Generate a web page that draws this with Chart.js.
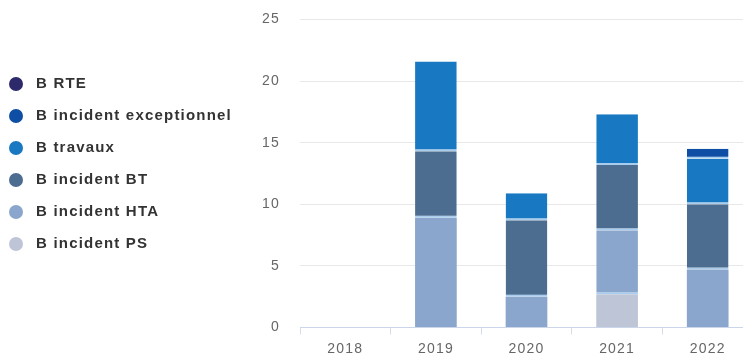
<!DOCTYPE html>
<html lang="fr">
<head>
<meta charset="utf-8">
<title>Incidents</title>
<script src="https://cdn.jsdelivr.net/npm/chart.js@4.4.1/dist/chart.umd.min.js"></script>
<style>
  html, body { margin: 0; padding: 0; background: #fff; overflow: hidden; }
  #wrap { width: 753px; height: 365px; }
</style>
</head>
<body>
<div id="wrap"><canvas id="chart" width="753" height="365"></canvas></div>
<script>
// categories and series (stack order: bottom -> top)
const years = ['2018', '2019', '2020', '2021', '2022'];
const incidentPS = [0, 0, 0, 2.7, 0];
const incidentHTA = [0, 8.9, 2.5, 5.2, 4.7];
const incidentBT = [0, 5.4, 6.2, 5.3, 5.3];
const travaux = [0, 7.3, 2.2, 4.1, 3.7];
const incidentExceptionnel = [0, 0, 0, 0, 0.8];
const rte = [0, 0, 0, 0, 0];
const yTicks = [0, 5, 10, 15, 20, 25];

const series = [
    { label: 'B incident PS', data: incidentPS, color: '#bec5d7' },
    { label: 'B incident HTA', data: incidentHTA, color: '#8ba6cd' },
    { label: 'B incident BT', data: incidentBT, color: '#4c6d90' },
    { label: 'B travaux', data: travaux, color: '#1879c2' },
    { label: 'B incident exceptionnel', data: incidentExceptionnel, color: '#0e4ea4' },
    { label: 'B RTE', data: rte, color: '#2c2a6b' }
];

const FONT = "'Liberation Sans', Arial, sans-serif";
Chart.defaults.font.family = FONT;

// round legend markers
function dot(color) {
    const c = document.createElement('canvas');
    c.width = c.height = 16;
    const g = c.getContext('2d');
    g.fillStyle = color;
    g.beginPath();
    g.arc(8, 8, 7, 0, Math.PI * 2);
    g.fill();
    return c;
}
const dots = series.map(s => dot(s.color));

// thin light separator under a segment when something is stacked below it
function separator(ctx) {
    const i = ctx.dataIndex;
    let below = 0;
    if (i !== undefined) {
        ctx.chart.data.datasets.slice(0, ctx.datasetIndex).forEach(d => { below += d.data[i] || 0; });
    }
    return { top: 0, left: 0, right: 0, bottom: below > 0 ? 2 : 0 };
}

// slightly spaced lettering for all texts
const spacing = {
    id: 'spacing',
    beforeUpdate(chart) { chart.ctx.letterSpacing = '1.2px'; },
    beforeDraw(chart) { chart.ctx.letterSpacing = '1.2px'; }
};

new Chart(document.getElementById('chart'), {
    type: 'bar',
    data: {
        labels: years,
        datasets: series.map(s => ({
            label: s.label,
            data: s.data,
            backgroundColor: s.color,
            borderColor: '#a9cdee',
            borderWidth: separator,
            borderSkipped: false,
            categoryPercentage: 1,
            barPercentage: 0.46
        }))
    },
    options: {
        responsive: false,
        animation: false,
        layout: { padding: { left: -13.5, top: 19.5, right: 0, bottom: 0 } },
        plugins: {
            tooltip: { enabled: false },
            legend: {
                position: 'left',
                align: 'start',
                reverse: true,
                maxWidth: 270,
                title: { display: true, text: '', padding: { top: 0, bottom: 39 }, font: { size: 1, lineHeight: 1 } },
                labels: {
                    usePointStyle: true,
                    pointStyleWidth: 25,
                    padding: 17,
                    color: '#333333',
                    font: { size: 15, weight: 'bold' },
                    generateLabels(chart) {
                        const items = Chart.defaults.plugins.legend.labels.generateLabels(chart);
                        items.forEach(it => { it.pointStyle = dots[it.datasetIndex]; });
                        return items;
                    }
                }
            }
        },
        scales: {
            x: {
                stacked: true,
                grid: { offset: true, drawOnChartArea: false, tickLength: 7, color: '#d8dde8' },
                border: { color: '#ccd6eb' },
                ticks: { color: '#666666', font: { size: 14 }, padding: 6.5, maxRotation: 0 },
                afterFit(scale) { scale.height = 37.5; }
            },
            y: {
                stacked: true,
                min: yTicks[0],
                max: yTicks[yTicks.length - 1],
                // invisible tick marks keep the labels off the plot without padding the top
                grid: { color: '#e8e8e8', drawTicks: true, tickLength: 20, tickColor: 'rgba(0,0,0,0)' },
                border: { display: false },
                ticks: { stepSize: yTicks[1] - yTicks[0], color: '#666666', font: { size: 14 }, padding: 0 },
                afterFit(scale) { scale.width = 313.5 - scale.chart.legend.width; }
            }
        }
    },
    plugins: [spacing]
});
</script>
</body>
</html>
